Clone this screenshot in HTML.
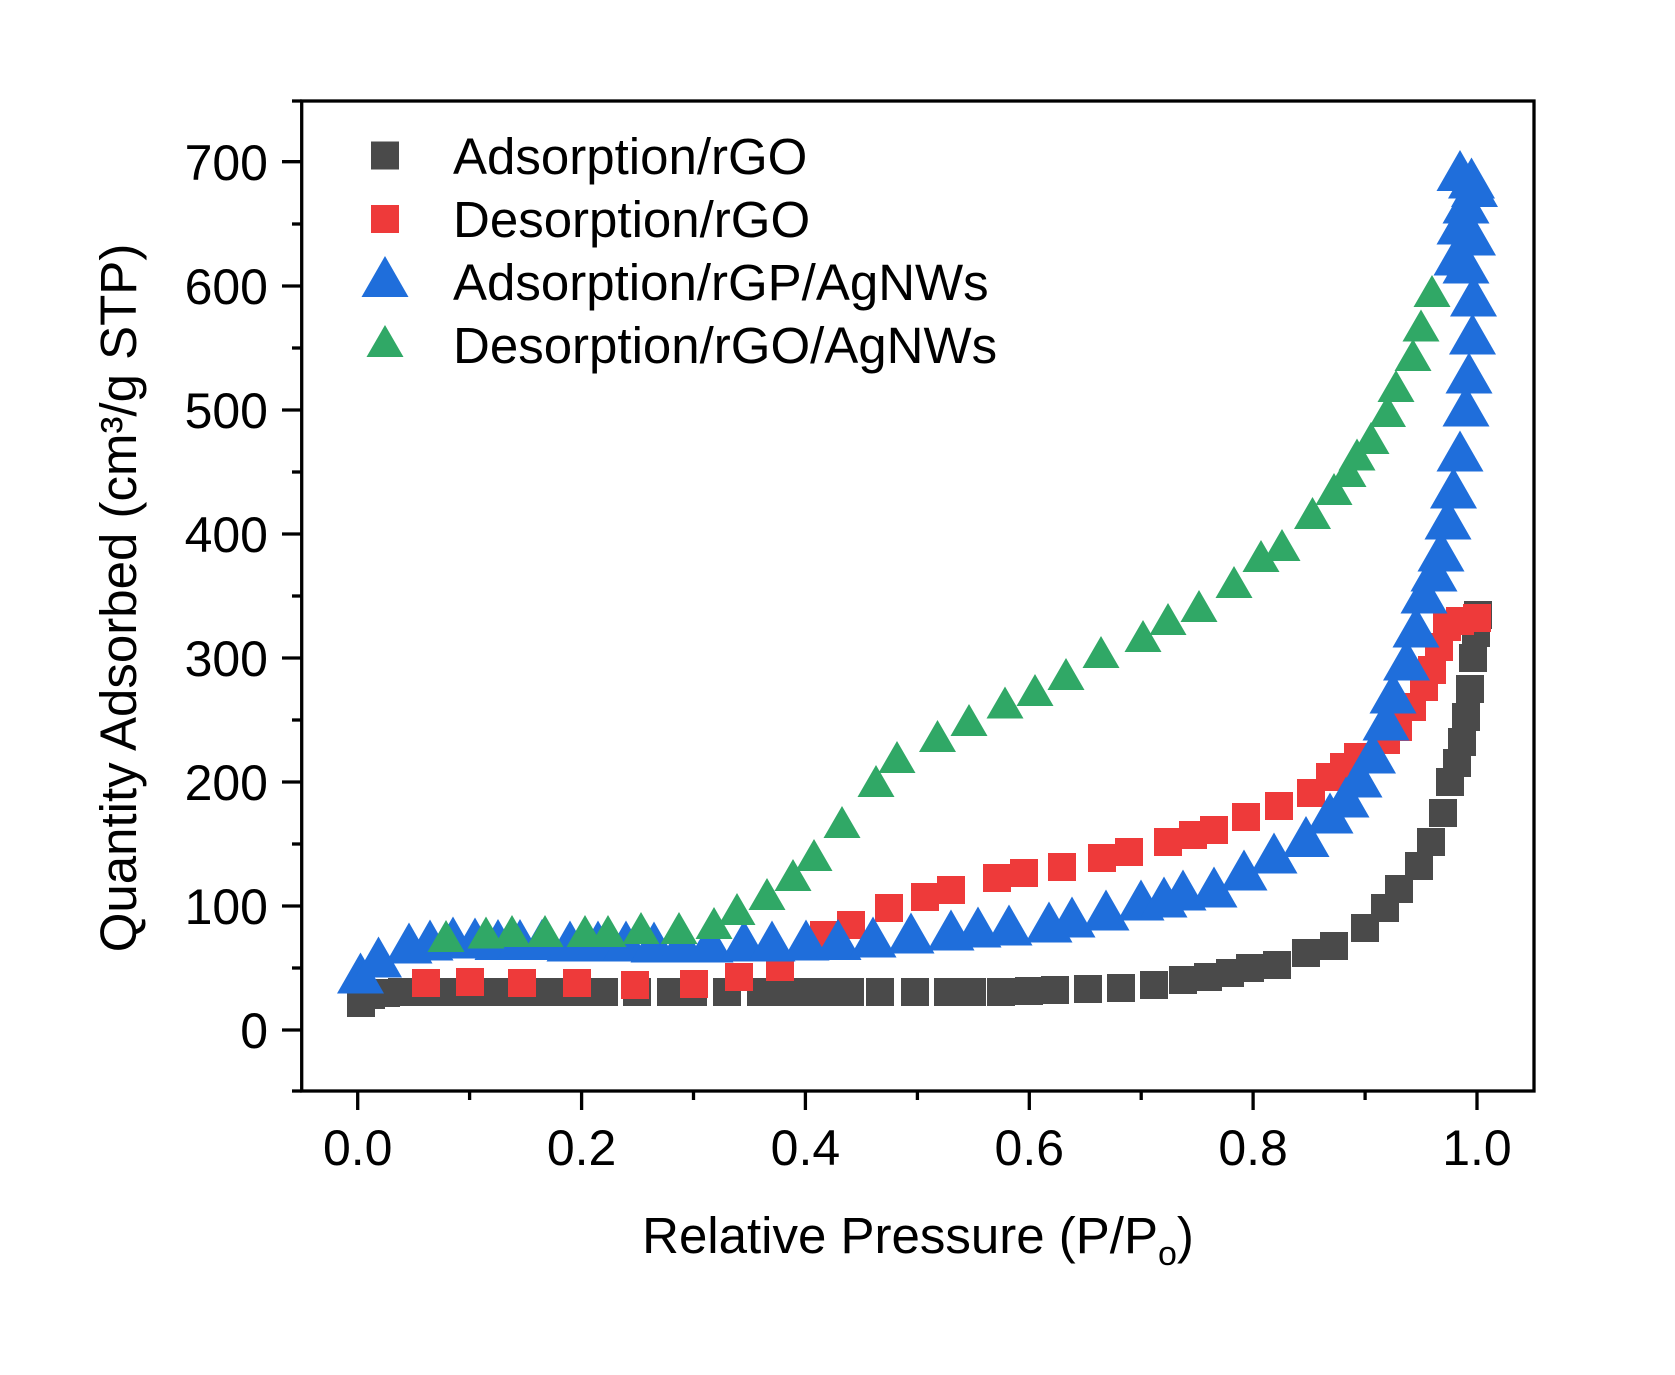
<!DOCTYPE html>
<html><head><meta charset="utf-8"><style>
html,body{margin:0;padding:0;background:#fff;}
svg{display:block;}
text{font-family:"Liberation Sans",Arial,sans-serif;fill:#000;}
</style></head><body>
<svg width="1675" height="1375" viewBox="0 0 1675 1375" xmlns="http://www.w3.org/2000/svg">
<defs>
<rect id="sq" x="-14" y="-14" width="28" height="28"/>
<polygon id="tb" points="0,-20.5 23.5,20.5 -23.5,20.5"/>
<polygon id="tg" points="0,-16 18.5,16 -18.5,16"/>
</defs>
<rect width="1675" height="1375" fill="#fff"/>

<!-- black: Adsorption/rGO -->
<g fill="#4a4a4a">
<use href="#sq" x="361" y="1003"/><use href="#sq" x="371" y="995"/><use href="#sq" x="386" y="993"/><use href="#sq" x="402" y="992"/><use href="#sq" x="425" y="992"/><use href="#sq" x="447" y="992"/><use href="#sq" x="470" y="992"/><use href="#sq" x="492" y="992"/><use href="#sq" x="514" y="992"/><use href="#sq" x="537" y="992"/><use href="#sq" x="559" y="992"/><use href="#sq" x="582" y="992"/><use href="#sq" x="604" y="992"/><use href="#sq" x="637" y="992"/><use href="#sq" x="671" y="992"/><use href="#sq" x="693" y="992"/><use href="#sq" x="727" y="992"/><use href="#sq" x="761" y="992"/><use href="#sq" x="783" y="992"/><use href="#sq" x="805" y="992"/><use href="#sq" x="828" y="992"/><use href="#sq" x="850" y="992"/><use href="#sq" x="880" y="992"/><use href="#sq" x="915" y="992"/><use href="#sq" x="948" y="992"/><use href="#sq" x="972" y="992"/><use href="#sq" x="1001" y="992"/><use href="#sq" x="1029" y="991"/><use href="#sq" x="1055" y="990"/><use href="#sq" x="1088" y="989"/><use href="#sq" x="1121" y="988"/><use href="#sq" x="1154" y="985"/><use href="#sq" x="1183" y="980"/><use href="#sq" x="1208" y="977"/><use href="#sq" x="1230" y="973"/><use href="#sq" x="1250" y="968"/><use href="#sq" x="1277" y="965"/><use href="#sq" x="1306" y="953"/><use href="#sq" x="1334" y="946"/><use href="#sq" x="1365" y="928"/><use href="#sq" x="1385" y="908"/><use href="#sq" x="1399" y="889"/><use href="#sq" x="1419" y="866"/><use href="#sq" x="1431" y="842"/><use href="#sq" x="1443" y="813"/><use href="#sq" x="1450" y="782"/><use href="#sq" x="1457" y="763"/><use href="#sq" x="1462" y="742"/><use href="#sq" x="1466" y="717"/><use href="#sq" x="1470" y="689"/><use href="#sq" x="1473" y="658"/><use href="#sq" x="1476" y="633"/><use href="#sq" x="1478" y="615"/>
</g>

<!-- red: Desorption/rGO -->
<g fill="#ee3a3a">
<use href="#sq" x="426" y="983"/><use href="#sq" x="470" y="982"/><use href="#sq" x="522" y="983"/><use href="#sq" x="577" y="983"/><use href="#sq" x="635" y="985"/><use href="#sq" x="694" y="984"/><use href="#sq" x="739" y="977"/><use href="#sq" x="780" y="967"/><use href="#sq" x="824" y="935"/><use href="#sq" x="851" y="925"/><use href="#sq" x="889" y="908"/><use href="#sq" x="925" y="897"/><use href="#sq" x="951" y="890"/><use href="#sq" x="997" y="878"/><use href="#sq" x="1024" y="873"/><use href="#sq" x="1062" y="867"/><use href="#sq" x="1102" y="858"/><use href="#sq" x="1129" y="852"/><use href="#sq" x="1168" y="842"/><use href="#sq" x="1193" y="835"/><use href="#sq" x="1214" y="830"/><use href="#sq" x="1246" y="817"/><use href="#sq" x="1279" y="806"/><use href="#sq" x="1311" y="793"/><use href="#sq" x="1330" y="777"/><use href="#sq" x="1344" y="767"/><use href="#sq" x="1358" y="757"/><use href="#sq" x="1386" y="740"/><use href="#sq" x="1398" y="727"/><use href="#sq" x="1412" y="707"/><use href="#sq" x="1424" y="687"/><use href="#sq" x="1432" y="670"/><use href="#sq" x="1439" y="647"/><use href="#sq" x="1447" y="627"/><use href="#sq" x="1460" y="621"/><use href="#sq" x="1477" y="618"/>
</g>

<!-- blue: Adsorption/rGP/AgNWs -->
<g fill="#1f6edb">
<use href="#tb" x="360.5" y="973"/><use href="#tb" x="378.5" y="957"/><use href="#tb" x="409" y="943"/><use href="#tb" x="430" y="940"/><use href="#tb" x="453" y="937"/><use href="#tb" x="475" y="938"/><use href="#tb" x="498" y="939.5"/><use href="#tb" x="520" y="939.5"/><use href="#tb" x="542" y="939.5"/><use href="#tb" x="570" y="941"/><use href="#tb" x="598" y="941"/><use href="#tb" x="626" y="941"/><use href="#tb" x="654" y="942"/><use href="#tb" x="682" y="942"/><use href="#tb" x="710" y="942"/><use href="#tb" x="744" y="941"/><use href="#tb" x="772" y="941"/><use href="#tb" x="806" y="940"/><use href="#tb" x="838" y="939.5"/><use href="#tb" x="873" y="937"/><use href="#tb" x="911" y="933"/><use href="#tb" x="951" y="930"/><use href="#tb" x="978" y="927"/><use href="#tb" x="1009" y="925"/><use href="#tb" x="1049" y="922"/><use href="#tb" x="1072" y="917"/><use href="#tb" x="1106" y="910"/><use href="#tb" x="1141" y="900"/><use href="#tb" x="1164" y="897"/><use href="#tb" x="1183" y="890"/><use href="#tb" x="1214" y="887"/><use href="#tb" x="1244" y="870"/><use href="#tb" x="1274" y="853"/><use href="#tb" x="1306" y="836.5"/><use href="#tb" x="1330" y="813"/><use href="#tb" x="1346" y="797"/><use href="#tb" x="1359" y="777"/><use href="#tb" x="1372.5" y="753"/><use href="#tb" x="1386" y="720"/><use href="#tb" x="1393" y="693"/><use href="#tb" x="1406.5" y="660"/><use href="#tb" x="1416" y="627"/><use href="#tb" x="1424" y="593"/><use href="#tb" x="1434" y="571"/><use href="#tb" x="1441" y="551"/><use href="#tb" x="1448" y="519"/><use href="#tb" x="1453.5" y="488"/><use href="#tb" x="1460" y="451"/><use href="#tb" x="1466" y="406"/><use href="#tb" x="1469" y="373"/><use href="#tb" x="1472.5" y="334"/><use href="#tb" x="1473.5" y="296"/><use href="#tb" x="1457" y="255"/><use href="#tb" x="1466" y="263"/><use href="#tb" x="1460" y="224"/><use href="#tb" x="1472.5" y="235"/><use href="#tb" x="1466" y="203"/><use href="#tb" x="1474.5" y="186.5"/><use href="#tb" x="1471.5" y="178"/><use href="#tb" x="1460" y="170.5"/>
</g>

<!-- green: Desorption/rGO/AgNWs -->
<g fill="#30a866">
<use href="#tg" x="446" y="936"/><use href="#tg" x="486" y="932.5"/><use href="#tg" x="512" y="931"/><use href="#tg" x="545" y="931"/><use href="#tg" x="585" y="931"/><use href="#tg" x="608" y="931"/><use href="#tg" x="641" y="928"/><use href="#tg" x="679" y="928"/><use href="#tg" x="714" y="923"/><use href="#tg" x="737" y="909"/><use href="#tg" x="767" y="894"/><use href="#tg" x="793" y="875"/><use href="#tg" x="814" y="855"/><use href="#tg" x="842" y="822"/><use href="#tg" x="876" y="781"/><use href="#tg" x="897" y="757"/><use href="#tg" x="937.5" y="736"/><use href="#tg" x="969" y="720"/><use href="#tg" x="1005" y="702.5"/><use href="#tg" x="1035" y="690"/><use href="#tg" x="1066" y="674"/><use href="#tg" x="1101" y="652"/><use href="#tg" x="1143" y="636"/><use href="#tg" x="1168" y="619"/><use href="#tg" x="1199" y="606"/><use href="#tg" x="1234" y="582"/><use href="#tg" x="1261" y="556"/><use href="#tg" x="1282" y="545"/><use href="#tg" x="1312.5" y="513"/><use href="#tg" x="1334" y="489"/><use href="#tg" x="1348" y="471"/><use href="#tg" x="1357" y="454.5"/><use href="#tg" x="1371" y="438"/><use href="#tg" x="1387.5" y="411"/><use href="#tg" x="1396" y="386"/><use href="#tg" x="1413" y="355"/><use href="#tg" x="1421" y="325.5"/><use href="#tg" x="1432" y="291"/>
</g>

<!-- frame -->
<rect x="301.7" y="101" width="1232.3" height="990" fill="none" stroke="#000" stroke-width="3.3"/>

<!-- ticks -->
<g stroke="#000" stroke-width="3.3">
<line x1="282" y1="1030" x2="301.7" y2="1030"/>
<line x1="282" y1="906" x2="301.7" y2="906"/>
<line x1="282" y1="782" x2="301.7" y2="782"/>
<line x1="282" y1="658" x2="301.7" y2="658"/>
<line x1="282" y1="534" x2="301.7" y2="534"/>
<line x1="282" y1="410" x2="301.7" y2="410"/>
<line x1="282" y1="286" x2="301.7" y2="286"/>
<line x1="282" y1="161.7" x2="301.7" y2="161.7"/>
<line x1="292" y1="1091" x2="301.7" y2="1091"/>
<line x1="292" y1="968" x2="301.7" y2="968"/>
<line x1="292" y1="844" x2="301.7" y2="844"/>
<line x1="292" y1="720" x2="301.7" y2="720"/>
<line x1="292" y1="596" x2="301.7" y2="596"/>
<line x1="292" y1="472" x2="301.7" y2="472"/>
<line x1="292" y1="348" x2="301.7" y2="348"/>
<line x1="292" y1="224" x2="301.7" y2="224"/>
<line x1="292" y1="101" x2="301.7" y2="101"/>
<line x1="357.7" y1="1091" x2="357.7" y2="1110"/>
<line x1="581.6" y1="1091" x2="581.6" y2="1110"/>
<line x1="805.4" y1="1091" x2="805.4" y2="1110"/>
<line x1="1029.3" y1="1091" x2="1029.3" y2="1110"/>
<line x1="1253.1" y1="1091" x2="1253.1" y2="1110"/>
<line x1="1477" y1="1091" x2="1477" y2="1110"/>
<line x1="469.6" y1="1091" x2="469.6" y2="1100"/>
<line x1="693.5" y1="1091" x2="693.5" y2="1100"/>
<line x1="917.4" y1="1091" x2="917.4" y2="1100"/>
<line x1="1141.2" y1="1091" x2="1141.2" y2="1100"/>
<line x1="1365.1" y1="1091" x2="1365.1" y2="1100"/>
</g>

<!-- y tick labels -->
<g font-size="50" text-anchor="end">
<text x="268" y="1048">0</text>
<text x="268" y="924">100</text>
<text x="268" y="800">200</text>
<text x="268" y="676">300</text>
<text x="268" y="552">400</text>
<text x="268" y="428">500</text>
<text x="268" y="304">600</text>
<text x="268" y="180">700</text>
</g>
<!-- x tick labels -->
<g font-size="50" text-anchor="middle">
<text x="357.7" y="1165">0.0</text>
<text x="581.6" y="1165">0.2</text>
<text x="805.4" y="1165">0.4</text>
<text x="1029.3" y="1165">0.6</text>
<text x="1253.1" y="1165">0.8</text>
<text x="1477" y="1165">1.0</text>
</g>

<!-- axis titles -->
<text x="918" y="1253" font-size="51" text-anchor="middle">Relative Pressure (P/P<tspan font-size="34" dy="12">o</tspan><tspan dy="-12">)</tspan></text>
<text transform="translate(136,598) rotate(-90)" font-size="51" text-anchor="middle">Quantity Adsorbed (cm³/g STP)</text>

<!-- legend -->
<rect x="371" y="141.5" width="28" height="28" fill="#4a4a4a"/>
<rect x="371" y="205" width="28" height="28" fill="#ee3a3a"/>
<polygon points="385,256 408.5,297 361.5,297" fill="#1f6edb"/>
<polygon points="385,325 403.5,357 366.5,357" fill="#30a866"/>
<g font-size="51">
<text x="453" y="174">Adsorption/rGO</text>
<text x="453" y="237">Desorption/rGO</text>
<text x="453" y="300">Adsorption/rGP/AgNWs</text>
<text x="453" y="363">Desorption/rGO/AgNWs</text>
</g>
</svg>
</body></html>
